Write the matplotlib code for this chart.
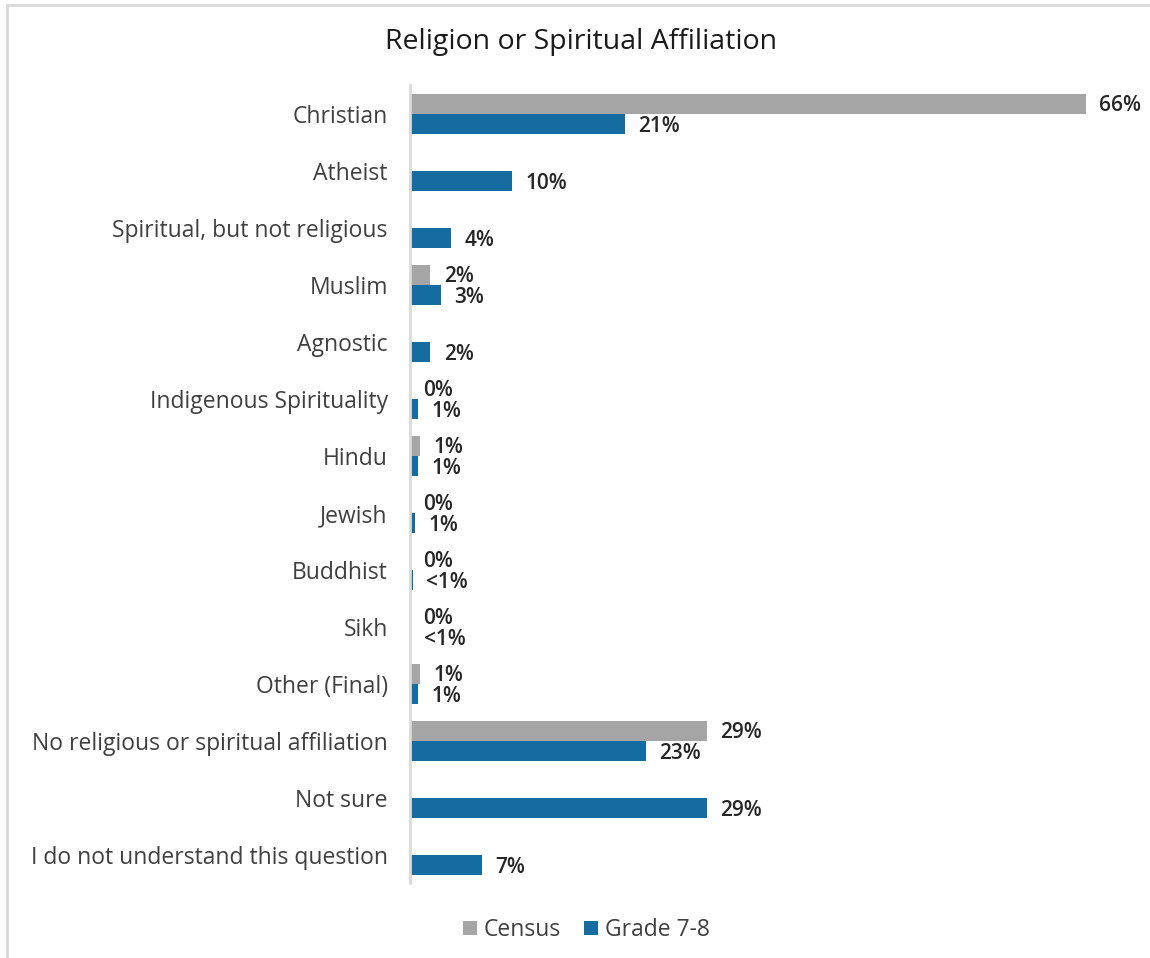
import numpy as np
import matplotlib.pyplot as plt
from matplotlib.lines import Line2D

# survey categories, top to bottom
categories = [
    "Christian", "Atheist", "Spiritual, but not religious", "Muslim",
    "Agnostic", "Indigenous Spirituality", "Hindu", "Jewish", "Buddhist",
    "Sikh", "Other (Final)", "No religious or spiritual affiliation",
    "Not sure", "I do not understand this question",
]
# percentages (nan = no census figure)
census = [66, np.nan, np.nan, 2, np.nan, 0, 1, 0, 0, 0, 1, 29, np.nan, np.nan]
grade78 = [21, 10, 4, 3, 2, 0.8, 0.8, 0.5, 0.3, 0.1, 0.8, 23, 29, 7]

gray = "#a5a5a5"
blue = "#156ca0"
txt = "#262626"


def pct(v):
    if 0 < v < 0.5:
        return "<1%"
    return f"{int(v + 0.5)}%"


plt.rcParams['font.family'] = ['Open Sans', 'DejaVu Sans']

fig = plt.figure(figsize=(11.5, 9.58), dpi=100)
# light frame on top and left edges
fig.add_artist(Line2D([0.006, 0.006], [0.0, 0.995], transform=fig.transFigure,
                      color="#d9d9d9", linewidth=2))
fig.add_artist(Line2D([0.006, 1.0], [0.995, 0.995], transform=fig.transFigure,
                      color="#d9d9d9", linewidth=2))

ax = fig.add_axes([0.3565, 0.0778, 0.6235, 0.833])

y = np.arange(len(categories))
h = 0.35
ax.barh(y - h / 2, np.nan_to_num(census), height=h, color=gray, label="Census")
ax.barh(y + h / 2, grade78, height=h, color=blue, label="Grade 7-8")

for i in range(len(categories)):
    if not np.isnan(census[i]):
        ax.text(census[i] + 1.3, y[i] - h / 2 + 0.02, pct(census[i]), va="center",
                ha="left", fontsize=15, fontweight="semibold", color=txt)
    ax.text(grade78[i] + 1.3, y[i] + h / 2 + 0.05, pct(grade78[i]), va="center",
            ha="left", fontsize=15, fontweight="semibold", color=txt)

ax.set_xlim(0, 70)
ax.set_ylim(len(categories) - 0.5, -0.5)
ax.set_yticks(y)
ax.set_yticklabels(categories, fontsize=16.5, color="#404040")
ax.tick_params(axis="y", length=0, pad=16)
ax.set_xticks([])
for s in ["top", "right", "bottom"]:
    ax.spines[s].set_visible(False)
ax.spines["left"].set_color("#d9d9d9")
ax.spines["left"].set_linewidth(2)

fig.text(0.505, 0.956, "Religion or Spiritual Affiliation", ha="center", va="center",
         fontsize=20.5, color="#1a1a1a")

fig.legend(loc="center", bbox_to_anchor=(0.51, 0.029), ncol=2, frameon=False,
           fontsize=16.5, handlelength=0.6, handleheight=0.6, handletextpad=0.3,
           columnspacing=1.0, labelcolor="#404040")

fig.savefig("out.png", dpi=100)
